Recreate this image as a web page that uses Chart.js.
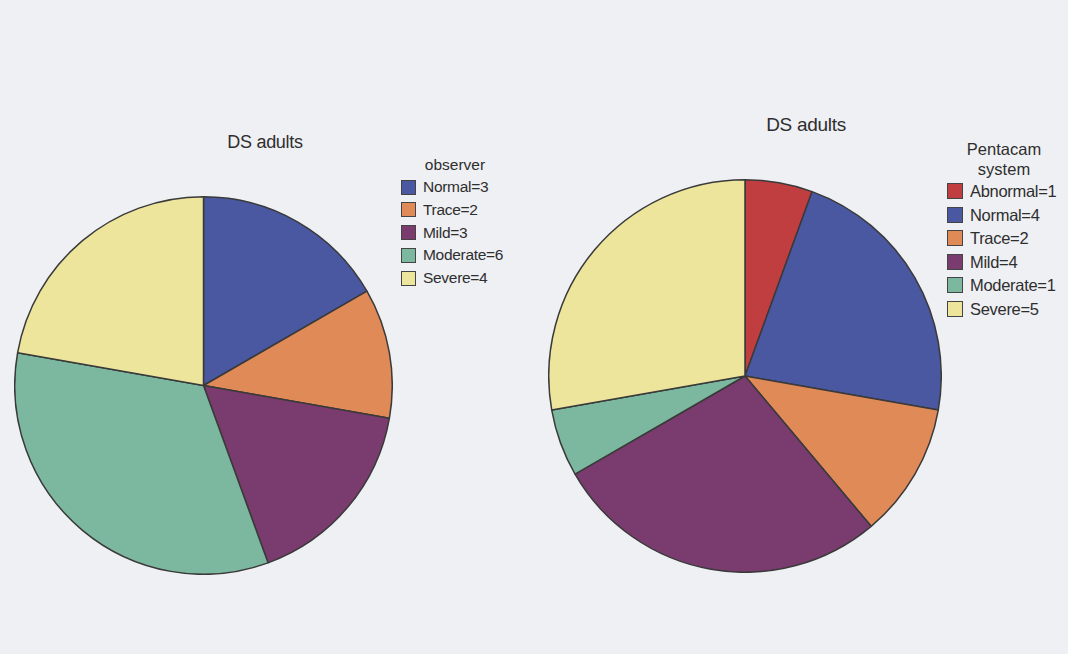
<!DOCTYPE html>
<html>
<head>
<meta charset="utf-8">
<script src="https://cdn.jsdelivr.net/npm/chart.js@4/dist/chart.umd.min.js"></script>
<style>
  html, body { margin: 0; padding: 0; }
  body { width: 1068px; height: 654px; background: #eff0f4; position: relative; overflow: hidden;
         font-family: "Liberation Sans", Arial, sans-serif; color: #2e2e2e; }
  .box { position: absolute; }
  .title { position: absolute; transform: translate(-50%, -50%); white-space: nowrap; color: #2e2e2e; }
  .sw { position: absolute; border: 1.5px solid #444; box-sizing: border-box; }
  .lt { position: absolute; transform: translateY(-50%); white-space: nowrap; color: #2e2e2e; }
</style>
</head>
<body>
<div class="box" id="c1" style="left:14px;top:196px;width:379px;height:379px;"><canvas id="pie1"></canvas></div>
<div class="box" id="c2" style="left:548px;top:179px;width:394px;height:394px;"><canvas id="pie2"></canvas></div>
<div id="overlay"></div>
<script>
// ---- data ----
const leftTitle = "DS adults";
const leftLegendTitle = ["observer"];
const leftCategories = ["Normal", "Trace", "Mild", "Moderate", "Severe"];
const leftValues = [3, 2, 3, 6, 4];               // slice sizes as drawn
const leftLegendCounts = [3, 2, 3, 6, 4];         // counts printed in the legend
const leftColors = ["#4a57a1", "#e08a58", "#7a3b6e", "#7cb89f", "#ece59b"];

const rightTitle = "DS adults";
const rightLegendTitle = ["Pentacam", "system"];
const rightCategories = ["Abnormal", "Normal", "Trace", "Mild", "Moderate", "Severe"];
const rightValues = [1, 4, 2, 5, 1, 5];           // slice sizes as drawn in the picture
const rightLegendCounts = [1, 4, 2, 4, 1, 5];     // counts printed in the legend
const rightColors = ["#c03e3f", "#4a57a1", "#e08a58", "#7a3b6e", "#7cb89f", "#ece59b"];

function makePie(id, labels, values, colors) {
  return new Chart(document.getElementById(id), {
    type: 'pie',
    data: {
      labels: labels,
      datasets: [{
        data: values,
        backgroundColor: colors,
        borderColor: '#3a3a3a',
        borderWidth: 1.5
      }]
    },
    options: {
      responsive: true,
      maintainAspectRatio: false,
      animation: false,
      layout: { padding: 0 },
      plugins: { legend: { display: false }, tooltip: { enabled: false } }
    }
  });
}
makePie('pie1', leftCategories, leftValues, leftColors);
makePie('pie2', rightCategories, rightValues, rightColors);

// ---- titles and legends (HTML) ----
const ov = document.getElementById('overlay');
function addText(cls, text, x, y, size, extra) {
  const d = document.createElement('div');
  d.className = cls;
  d.textContent = text;
  d.style.left = x + 'px';
  d.style.top = y + 'px';
  d.style.fontSize = size + 'px';
  if (extra) Object.assign(d.style, extra);
  ov.appendChild(d);
  return d;
}
function legend(cfg) {
  cfg.titleLines.forEach((t, i) => {
    addText('title', t, cfg.titleX, cfg.titleY + i * cfg.titleStep, cfg.size);
  });
  cfg.cats.forEach((c, i) => {
    const cy = cfg.y0 + i * cfg.step;
    const s = document.createElement('div');
    s.className = 'sw';
    s.style.left = cfg.boxX + 'px';
    s.style.top = (cy - cfg.box / 2) + 'px';
    s.style.width = cfg.box + 'px';
    s.style.height = cfg.box + 'px';
    s.style.background = cfg.colors[i];
    ov.appendChild(s);
    addText('lt', c + '=' + cfg.vals[i], cfg.textX, cy, cfg.size, { letterSpacing: '-0.3px' });
  });
}
addText('title', leftTitle, 265, 142, 18, { letterSpacing: '-0.3px' });
addText('title', rightTitle, 806, 125, 19, { letterSpacing: '-0.3px' });

legend({ titleLines: leftLegendTitle, titleX: 455, titleY: 165, titleStep: 20, size: 15.5,
  cats: leftCategories, vals: leftLegendCounts, colors: leftColors,
  boxX: 401, box: 15, textX: 423, y0: 187, step: 22.8 });
legend({ titleLines: rightLegendTitle, titleX: 1004, titleY: 149, titleStep: 19.5, size: 16.5,
  cats: rightCategories, vals: rightLegendCounts, colors: rightColors,
  boxX: 947, box: 16, textX: 970, y0: 191, step: 23.6 });
</script>
</body>
</html>
